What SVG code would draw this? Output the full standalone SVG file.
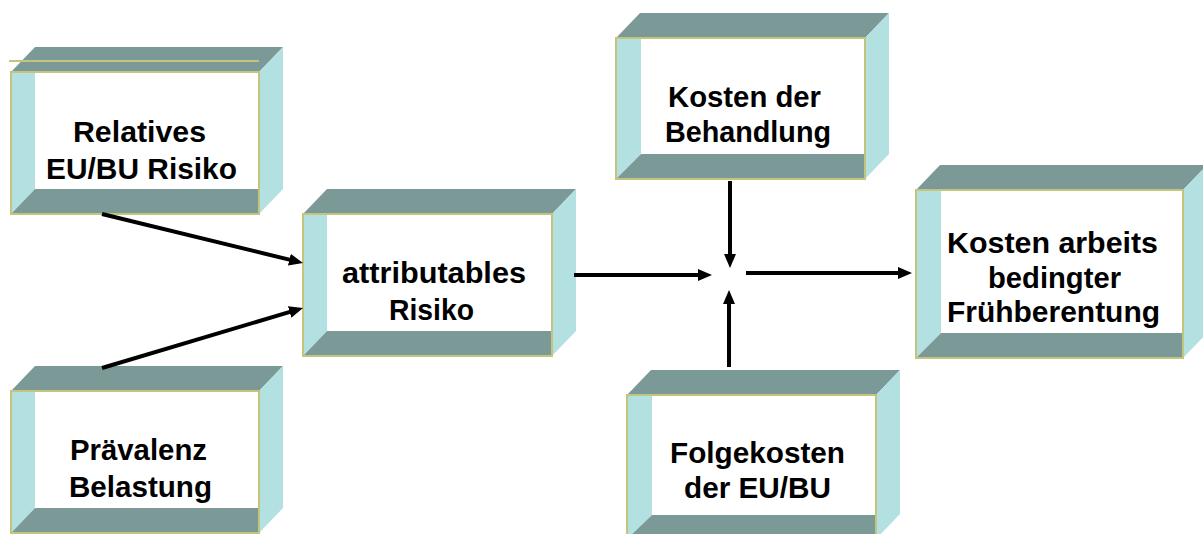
<svg xmlns="http://www.w3.org/2000/svg" width="1203" height="534" viewBox="0 0 1203 534">
<style>
.top{fill:#7B9A97}
.side{fill:#B3E1E1}
.front{fill:#FFFFFF}
.floor{fill:#7B9A97}
.wall{fill:#B3E1E1}
.edge{fill:none;stroke:#C4C47C;stroke-width:2}
.lbl{font-family:"Liberation Sans",Arial,sans-serif;font-weight:bold;font-size:29px;fill:#000}
.conn{stroke:#000;stroke-width:4;fill:none;marker-end:url(#ah)}
</style>
<defs>
<marker id="ah" markerUnits="userSpaceOnUse" viewBox="0 0 14 12" markerWidth="14" markerHeight="12" refX="3" refY="6" orient="auto">
<path d="M0,0 L14,6 L0,12 z" fill="#000"/>
</marker>
</defs>
<rect width="1203" height="534" fill="#fff"/>

<g id="node-relatives">
<polygon class="top" points="11,72 35,47 283,47 259,72"/>
<polygon class="side" points="259,72 283,47 283,189 259,214"/>
<rect class="front" x="11" y="72" width="248" height="142"/>
<polygon class="wall" points="11,72 35,72 35,189 11,214"/>
<polygon class="floor" points="11,214 35,189 259,189 259,214"/>
<rect class="edge" x="11" y="72" width="248" height="142"/>
<line x1="9" y1="61" x2="259" y2="61" stroke="#C4C47C" stroke-width="2"/>
<text class="lbl" x="73" y="142" textLength="133" lengthAdjust="spacingAndGlyphs">Relatives</text>
<text class="lbl" x="46" y="179" textLength="191" lengthAdjust="spacingAndGlyphs">EU/BU Risiko</text>
</g>

<g id="node-praevalenz">
<polygon class="top" points="11,391 35,366 283,366 259,391"/>
<polygon class="side" points="259,391 283,366 283,508 259,533"/>
<rect class="front" x="11" y="391" width="248" height="142"/>
<polygon class="wall" points="11,391 35,391 35,508 11,533"/>
<polygon class="floor" points="11,533 35,508 259,508 259,533"/>
<rect class="edge" x="11" y="391" width="248" height="142"/>
<text class="lbl" x="70" y="460" textLength="137" lengthAdjust="spacingAndGlyphs">Prävalenz</text>
<text class="lbl" x="69" y="497" textLength="143" lengthAdjust="spacingAndGlyphs">Belastung</text>
</g>

<g id="node-attributables">
<polygon class="top" points="303,214 327,189 576,189 552,214"/>
<polygon class="side" points="552,214 576,189 576,331 552,356"/>
<rect class="front" x="303" y="214" width="249" height="142"/>
<polygon class="wall" points="303,214 327,214 327,331 303,356"/>
<polygon class="floor" points="303,356 327,331 552,331 552,356"/>
<rect class="edge" x="303" y="214" width="249" height="142"/>
<text class="lbl" x="342" y="283" textLength="184" lengthAdjust="spacingAndGlyphs">attributables</text>
<text class="lbl" x="389" y="320" textLength="85" lengthAdjust="spacingAndGlyphs">Risiko</text>
</g>

<g id="node-behandlung">
<polygon class="top" points="616,38 640,13 889,13 865,38"/>
<polygon class="side" points="865,38 889,13 889,154 865,179"/>
<rect class="front" x="616" y="38" width="249" height="141"/>
<polygon class="wall" points="616,38 641,38 641,154 616,179"/>
<polygon class="floor" points="616,179 641,154 865,154 865,179"/>
<rect class="edge" x="616" y="38" width="249" height="141"/>
<text class="lbl" x="668" y="107" textLength="153" lengthAdjust="spacingAndGlyphs">Kosten der</text>
<text class="lbl" x="665" y="142" textLength="166" lengthAdjust="spacingAndGlyphs">Behandlung</text>
</g>

<g id="node-folgekosten">
<polygon class="top" points="627,395 651,370 900,370 876,395"/>
<polygon class="side" points="876,395 900,370 900,514 876,539"/>
<rect class="front" x="627" y="395" width="249" height="144"/>
<polygon class="wall" points="627,395 652,395 652,515 627,539"/>
<polygon class="floor" points="627,539 652,515 876,515 876,539"/>
<rect class="edge" x="627" y="395" width="249" height="144"/>
<text class="lbl" x="670" y="463" textLength="175" lengthAdjust="spacingAndGlyphs">Folgekosten</text>
<text class="lbl" x="684" y="498" textLength="147" lengthAdjust="spacingAndGlyphs">der EU/BU</text>
</g>

<g id="node-fruehberentung">
<polygon class="top" points="916,190 940,165 1207,165 1183,190"/>
<polygon class="side" points="1183,190 1207,165 1207,333 1183,358"/>
<rect class="front" x="916" y="190" width="267" height="168"/>
<polygon class="wall" points="916,190 941,190 941,333 916,358"/>
<polygon class="floor" points="916,358 941,333 1183,333 1183,358"/>
<rect class="edge" x="916" y="190" width="267" height="168"/>
<text class="lbl" x="947" y="253" textLength="211" lengthAdjust="spacingAndGlyphs">Kosten arbeits</text>
<text class="lbl" x="988" y="288" textLength="133" lengthAdjust="spacingAndGlyphs">bedingter</text>
<text class="lbl" x="947" y="322" textLength="213" lengthAdjust="spacingAndGlyphs">Frühberentung</text>
</g>

<g id="connectors">
<line class="conn" x1="102" y1="214" x2="292.3" y2="260.4"/>
<line class="conn" x1="102" y1="368" x2="292.5" y2="311.1"/>
<line class="conn" x1="574" y1="275" x2="701" y2="275"/>
<line class="conn" x1="730" y1="181" x2="730" y2="257"/>
<line class="conn" x1="729" y1="367" x2="729" y2="301"/>
<line class="conn" x1="746" y1="273" x2="901" y2="273"/>
</g>
</svg>
